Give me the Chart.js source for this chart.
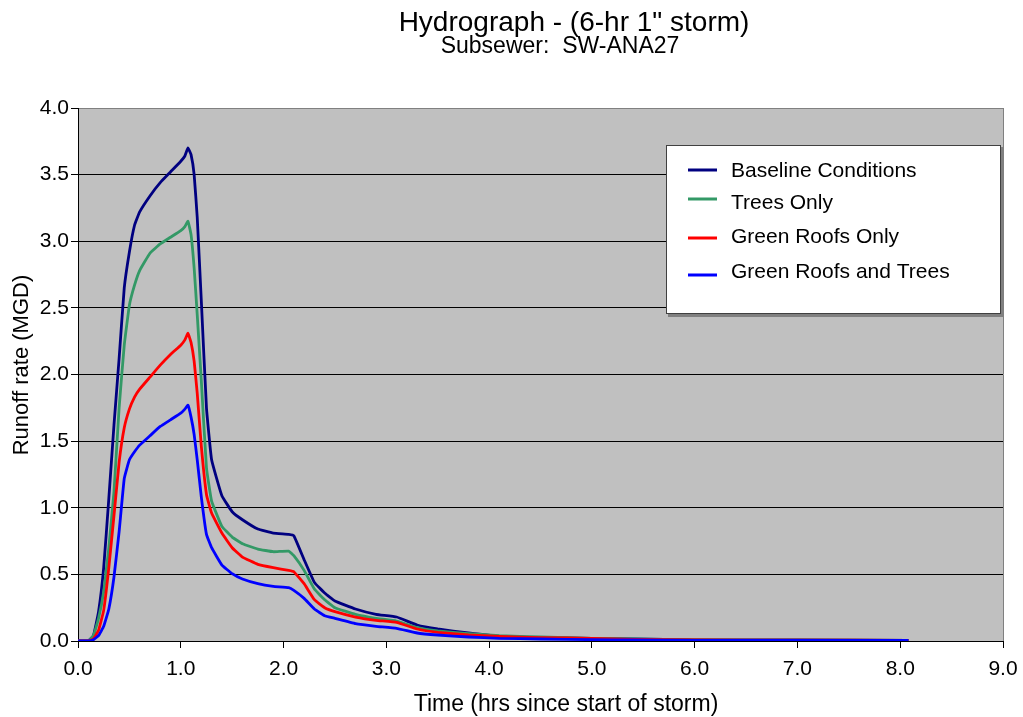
<!DOCTYPE html>
<html>
<head>
<meta charset="utf-8">
<script src="https://cdn.jsdelivr.net/npm/chart.js@4.4.1/dist/chart.umd.min.js"></script>
<style>
  html,body{margin:0;padding:0;background:#fff;}
  canvas{display:block;}
</style>
</head>
<body>
<canvas id="hydro" width="1023" height="717"></canvas>
<script>
// tiempos (hrs desde inicio de la tormenta)
const TIME = [0, 0.1, 0.15, 0.2, 0.25, 0.3, 0.35, 0.4, 0.45, 0.5, 0.55, 0.6, 0.7, 0.8, 0.9, 1.0, 1.04, 1.07,
  1.1, 1.13, 1.16, 1.2, 1.25, 1.3, 1.4, 1.5, 1.6, 1.75, 1.9, 2.05, 2.1, 2.2, 2.3, 2.4, 2.5, 2.7, 2.9, 3.1,
  3.3, 3.5, 3.8, 4.1, 4.5, 5.0, 5.4, 6.0, 7.0, 8.08];

// caudal (MGD) por escenario
const BASELINE = [0, 0.0, 0.04, 0.22, 0.55, 1.07, 1.62, 2.12, 2.65, 2.92, 3.12, 3.22, 3.34, 3.44, 3.52, 3.60, 3.64, 3.70,
  3.65, 3.50, 3.18, 2.55, 1.75, 1.36, 1.09, 0.97, 0.91, 0.84, 0.81, 0.80, 0.79, 0.61, 0.44, 0.36, 0.30, 0.24, 0.20, 0.18,
  0.12, 0.09, 0.06, 0.035, 0.025, 0.02, 0.015, 0.008, 0.008, 0.005];
const TREES = [0, 0.0, 0.04, 0.17, 0.37, 0.70, 1.12, 1.75, 2.22, 2.52, 2.67, 2.78, 2.91, 2.98, 3.03, 3.08, 3.11, 3.15,
  3.05, 2.80, 2.45, 1.95, 1.30, 1.05, 0.86, 0.78, 0.73, 0.69, 0.67, 0.675, 0.64, 0.53, 0.39, 0.31, 0.25, 0.20, 0.17, 0.15,
  0.10, 0.075, 0.055, 0.04, 0.03, 0.02, 0.015, 0.008, 0.006, 0.005];
const ROOFS = [0, 0.0, 0.015, 0.08, 0.23, 0.55, 0.94, 1.34, 1.60, 1.74, 1.83, 1.89, 1.98, 2.07, 2.15, 2.22, 2.26, 2.31,
  2.24, 2.10, 1.86, 1.46, 1.10, 0.96, 0.81, 0.70, 0.63, 0.575, 0.55, 0.53, 0.52, 0.43, 0.31, 0.25, 0.22, 0.18, 0.155, 0.14,
  0.09, 0.065, 0.045, 0.035, 0.025, 0.02, 0.012, 0.008, 0.006, 0.005];
const ROOFS_TREES = [0, 0.0, 0.01, 0.04, 0.11, 0.24, 0.48, 0.82, 1.22, 1.36, 1.42, 1.47, 1.54, 1.61, 1.66, 1.71, 1.74, 1.77,
  1.68, 1.55, 1.36, 1.08, 0.80, 0.70, 0.57, 0.505, 0.465, 0.43, 0.41, 0.40, 0.38, 0.32, 0.24, 0.19, 0.17, 0.13, 0.11, 0.095,
  0.06, 0.045, 0.03, 0.02, 0.015, 0.01, 0.008, 0.005, 0.005, 0.005];

const SERIES_NAMES = ['Baseline Conditions', 'Trees Only', 'Green Roofs Only', 'Green Roofs and Trees'];
const X_TICKS = [0, 1, 2, 3, 4, 5, 6, 7, 8, 9];
const Y_TICKS = [0, 0.5, 1.0, 1.5, 2.0, 2.5, 3.0, 3.5, 4.0];

const FONT = '"Liberation Sans", Arial, sans-serif';
const COLORS = ['#000080', '#339966', '#ff0000', '#0000ff'];
const LEG_ROWS = [170, 199, 238, 275];
const LEG_TEXT = [171, 203, 237, 272];

// fondo gris + borde + titulos + leyenda
const decor = {
  id: 'decor',
  beforeDraw(chart){
    const {ctx, chartArea:a} = chart;
    ctx.save();
    ctx.fillStyle = '#c0c0c0';
    ctx.fillRect(a.left, a.top, a.right - a.left, a.bottom - a.top);
    ctx.restore();
  },
  afterDatasetsDraw(chart){
    const {ctx, chartArea:a} = chart;
    ctx.save();
    // borde derecho gris
    ctx.strokeStyle = '#808080'; ctx.lineWidth = 1;
    ctx.beginPath(); ctx.moveTo(a.right + 0.5, a.top); ctx.lineTo(a.right + 0.5, a.bottom); ctx.stroke();

    // titulos
    ctx.fillStyle = '#000';
    ctx.textAlign = 'center'; ctx.textBaseline = 'middle';
    ctx.font = '28px ' + FONT;
    ctx.fillText('Hydrograph - (6-hr 1" storm)', 574, 23);
    ctx.font = '23px ' + FONT;
    ctx.fillText('Subsewer:  SW-ANA27', 560, 47);
    ctx.font = '23px ' + FONT;
    ctx.fillText('Time (hrs since start of storm)', 566, 705);
    ctx.save();
    ctx.translate(22, 365); ctx.rotate(-Math.PI / 2);
    ctx.font = '22px ' + FONT;
    ctx.fillText('Runoff rate (MGD)', 0, 0);
    ctx.restore();

    // leyenda
    ctx.fillStyle = '#808080';
    ctx.fillRect(668, 147, 336, 170);
    ctx.fillStyle = '#fff';
    ctx.fillRect(666, 145, 335, 169);
    ctx.strokeStyle = '#404040'; ctx.lineWidth = 1;
    ctx.strokeRect(666.5, 145.5, 334, 168);
    ctx.textAlign = 'left';
    ctx.font = '21px ' + FONT;
    SERIES_NAMES.forEach((n, i) => {
      ctx.strokeStyle = COLORS[i]; ctx.lineWidth = 3;
      ctx.beginPath(); ctx.moveTo(688, LEG_ROWS[i]); ctx.lineTo(717, LEG_ROWS[i]); ctx.stroke();
      ctx.fillStyle = '#000';
      ctx.fillText(n, 731, LEG_TEXT[i]);
    });
    ctx.restore();
  }
};

const SERIES = [BASELINE, TREES, ROOFS, ROOFS_TREES];

new Chart(document.getElementById('hydro').getContext('2d'), {
  type: 'line',
  data: {
    datasets: SERIES.map((vals, i) => ({
      label: SERIES_NAMES[i],
      data: TIME.map((t, k) => ({x: t, y: vals[k]})),
      borderColor: COLORS[i],
      borderWidth: 2.8,
      pointRadius: 0,
      tension: 0.1,
      fill: false
    })).reverse()
  },
  options: {
    responsive: false,
    animation: false,
    devicePixelRatio: 1,
    layout: {padding: {top: 108, right: 20, left: 0, bottom: 0}},
    plugins: {legend: {display: false}, title: {display: false}, tooltip: {enabled: false}},
    scales: {
      x: {
        type: 'linear', min: 0, max: 9,
        afterBuildTicks: s => { s.ticks = X_TICKS.map(v => ({value: v})); },
        afterFit: s => { s.height = 76; s.paddingLeft = 0; s.paddingRight = 0; },
        grid: {drawOnChartArea: false, drawTicks: true, tickLength: 7, color: '#000', tickColor: '#000'},
        border: {display: true, color: '#000', width: 1},
        ticks: {color: '#000', font: {family: FONT, size: 21}, padding: 9, maxRotation: 0,
          callback: v => Number(v).toFixed(1)}
      },
      y: {
        type: 'linear', min: 0, max: 4,
        afterBuildTicks: s => { s.ticks = Y_TICKS.map(v => ({value: v})); },
        afterFit: s => { s.width = 78; s.paddingTop = 0; s.paddingBottom = 0; },
        grid: {drawTicks: true, tickLength: 7, tickColor: '#000',
          color: c => c.tick && c.tick.value === 4 ? '#808080' : '#000', lineWidth: 1},
        border: {display: true, color: '#000', width: 1},
        ticks: {color: '#000', font: {family: FONT, size: 21}, padding: 2,
          callback: v => Number(v).toFixed(1)}
      }
    }
  },
  plugins: [decor]
});
</script>
</body>
</html>
